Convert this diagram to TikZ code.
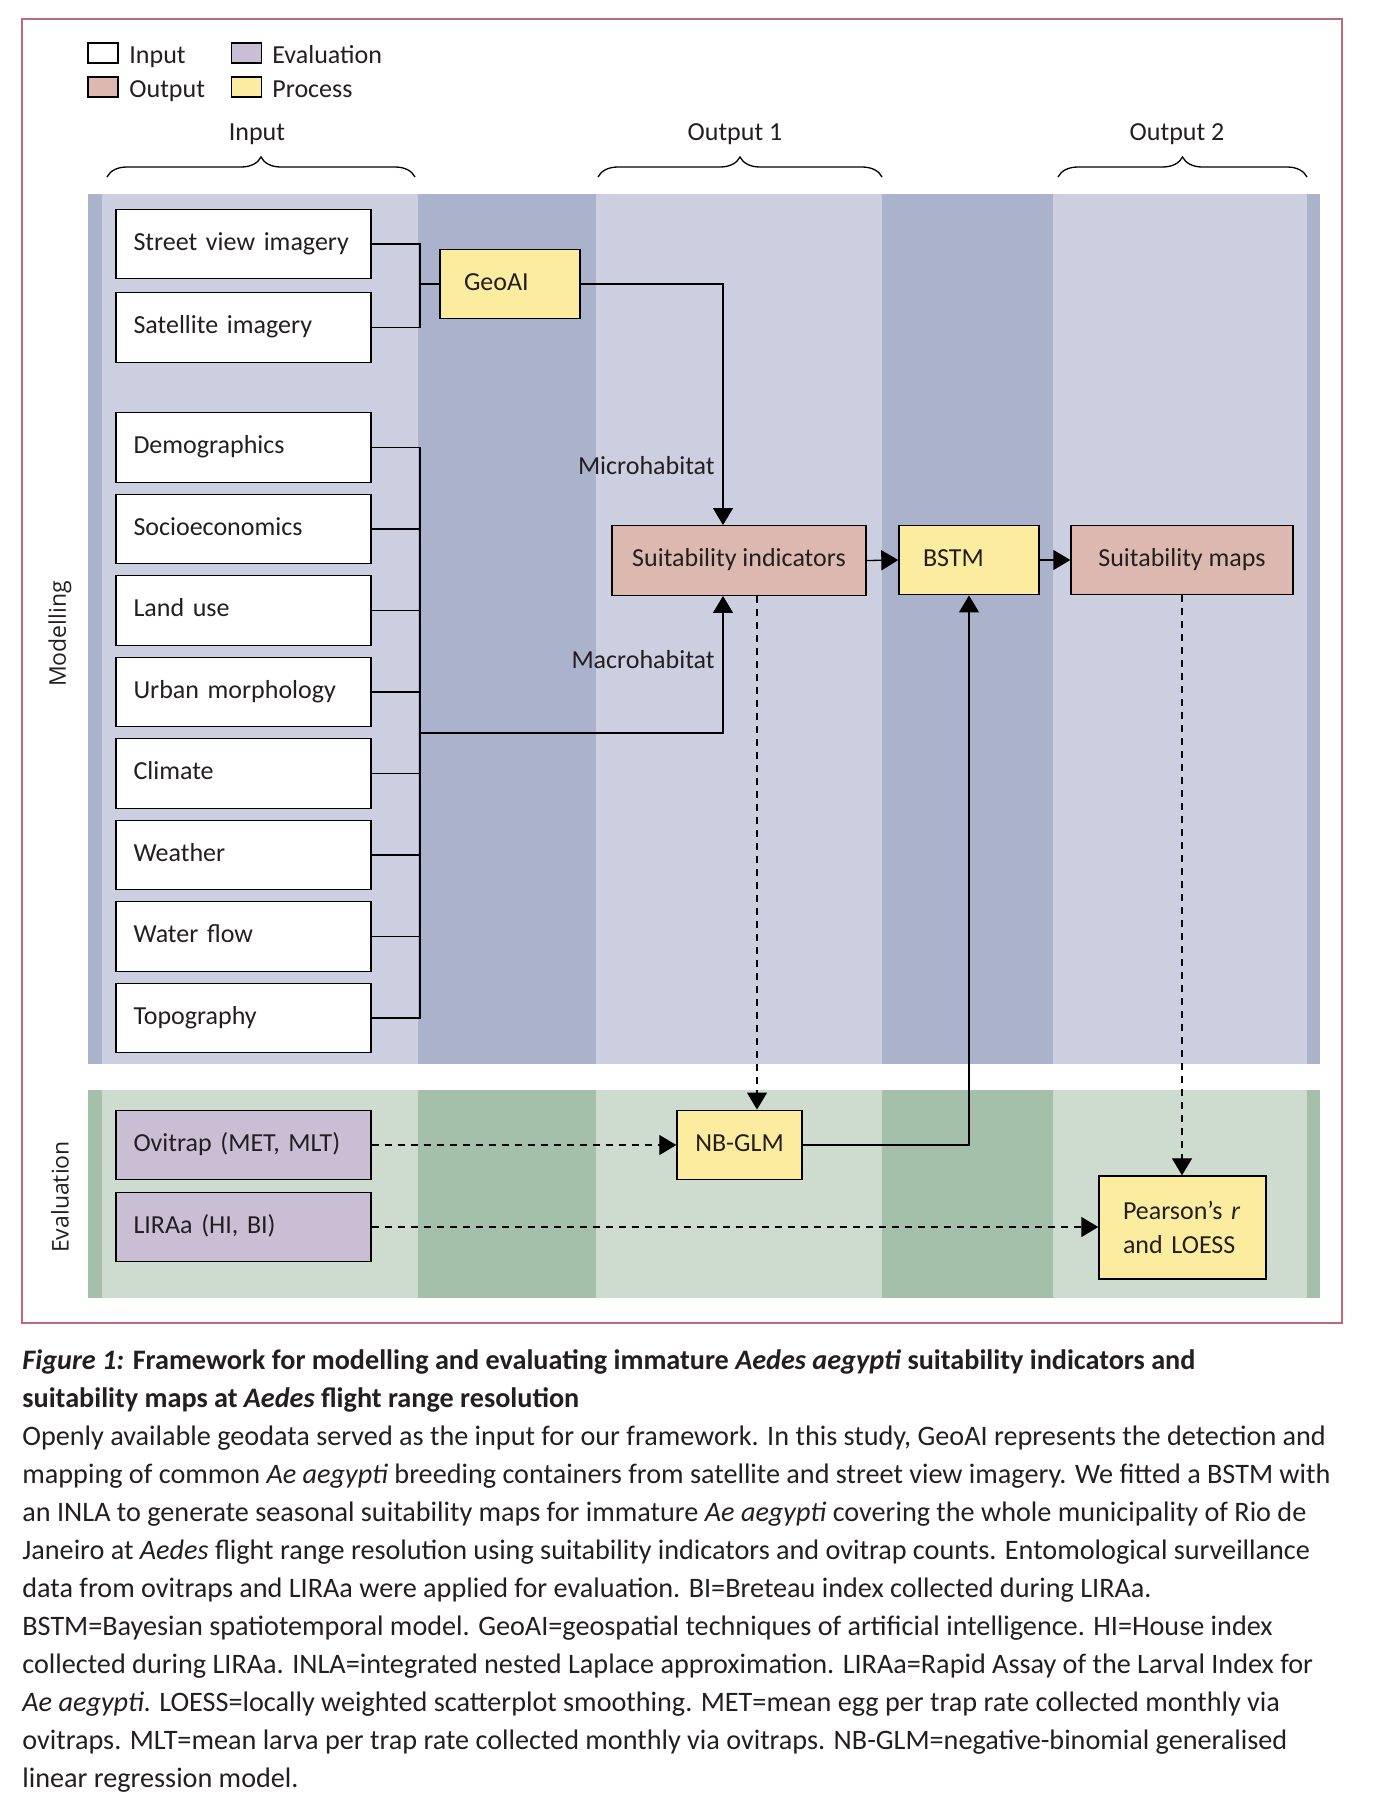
\documentclass[tikz,border=0pt]{standalone}
\usepackage{fontspec}
\setmainfont{Carlito}
\newfontfamily\sidefont{Open Sans}
\usetikzlibrary{positioning,calc,arrows.meta,decorations.pathreplacing}
\definecolor{inkcol}{RGB}{35,31,32}
\definecolor{framecol}{RGB}{190,105,120}
\definecolor{bluelight}{RGB}{203,207,223}
\definecolor{bluedark}{RGB}{170,178,204}
\definecolor{greenlight}{RGB}{206,220,208}
\definecolor{greendark}{RGB}{164,192,170}
\definecolor{outfill}{RGB}{220,184,176}
\definecolor{evalfill}{RGB}{201,190,212}
\definecolor{procfill}{RGB}{251,236,160}
\tikzstyle{inbox} = [draw, fill=white, line width=0.7pt, text width=110pt, inner xsep=8.75pt, minimum height=34.75pt, align=left, text height=8pt, text depth=2pt]
\tikzstyle{evbox} = [inbox, fill=evalfill]
\tikzstyle{outbox} = [draw, fill=outfill, line width=0.7pt, minimum height=34.75pt, text height=8pt, text depth=2pt]
\tikzstyle{procbox} = [draw, fill=procfill, line width=0.7pt, minimum height=34.75pt, inner xsep=12pt, align=left]
\tikzstyle{oneline} = [text height=8pt, text depth=2pt]
\tikzstyle{legbox} = [draw, line width=0.7pt, minimum width=15pt, minimum height=10pt, inner sep=0pt]
\tikzstyle{Line} = [line width=0.65pt]
\tikzstyle{Arrow} = [-{Triangle[length=8.5pt,width=10pt]}, line width=0.65pt]
\tikzstyle{DArrow} = [Arrow, dash pattern=on 3.5pt off 3pt]

\begin{document}
\begin{tikzpicture}[x=0.5pt, y=-0.5pt, text=inkcol, font=\fontsize{13}{17}\selectfont]
            \useasboundingbox (0,0) rectangle (1390,1810);
            \fill[white] (0,0) rectangle (1390,1810);
            \draw[framecol, line width=1pt] (22,19) rectangle (1342,1323);
            %%%%% Panels %%%%%
            \fill[bluelight] (88,194) rectangle (1320,1064);
            \fill[bluedark] (88,194) rectangle (102,1064);
            \fill[bluedark] (418,194) rectangle (596,1064);
            \fill[bluedark] (882,194) rectangle (1053,1064);
            \fill[bluedark] (1307,194) rectangle (1320,1064);
            \fill[greenlight] (88,1090) rectangle (1320,1298);
            \fill[greendark] (88,1090) rectangle (102,1298);
            \fill[greendark] (418,1090) rectangle (596,1298);
            \fill[greendark] (882,1090) rectangle (1053,1298);
            \fill[greendark] (1307,1090) rectangle (1320,1298);
            \node[rotate=90, font=\sidefont\fontsize{11.5}{14}\selectfont] (modl) at (60,634) {Modelling};
            \node[rotate=90, font=\sidefont\fontsize{11.5}{14}\selectfont] (evl) at (60,1197) {Evaluation};
            %%%%% Legend %%%%%
            \node[legbox, fill=white] (legIn) at (103,53) {};
            \node[anchor=base west, inner sep=0pt] at (129,63) {Input};
            \node[legbox, fill=outfill] (legOut) at (103,87) {};
            \node[anchor=base west, inner sep=0pt] at (129,97) {Output};
            \node[legbox, fill=evalfill] (legEv) at (246.5,53) {};
            \node[anchor=base west, inner sep=0pt] at (272,63) {Evaluation};
            \node[legbox, fill=procfill] (legPr) at (246.5,87) {};
            \node[anchor=base west, inner sep=0pt] at (272,97) {Process};
            %%%%% Headers %%%%%
            \node[anchor=base] (hdIn) at (257,140) {Input};
            \node[anchor=base] (hdOne) at (735,140) {Output 1};
            \node[anchor=base] (hdTwo) at (1177,140) {Output 2};
            \draw[Line, decorate, decoration={brace, amplitude=10pt}] (107,177) -- (415,177);
            \draw[Line, decorate, decoration={brace, amplitude=10pt}] (598,177) -- (882,177);
            \draw[Line, decorate, decoration={brace, amplitude=10pt}] (1058,177) -- (1307,177);
            %%%%% Inputs %%%%%
            \node[inbox] (street) at (243.5,244) {Street view imagery};
            \node[inbox] (sat) at (243.5,327.5) {Satellite imagery};
            \node[inbox] (demo) at (243.5,447.5) {Demographics};
            \node[inbox, below=5.3pt of demo] (socio) {Socioeconomics};
            \node[inbox, below=5.3pt of socio] (land) {Land use};
            \node[inbox, below=5.3pt of land] (urban) {Urban morphology};
            \node[inbox, below=5.3pt of urban] (climate) {Climate};
            \node[inbox, below=5.3pt of climate] (weather) {Weather};
            \node[inbox, below=5.3pt of weather] (water) {Water flow};
            \node[inbox, below=5.3pt of water] (topo) {Topography};
            %%%%% Outputs and processes %%%%%
            \node[procbox, oneline, text width=46pt] (geoai) at (510,284) {GeoAI};
            \node[outbox, minimum width=127pt] (suitind) at (739,560.5) {Suitability indicators};
            \node[procbox, oneline, text width=46pt] (bstm) at (969,560) {BSTM};
            \node[outbox, minimum width=111pt] (suitmap) at (1182,560) {Suitability maps};
            %%%%% Evaluation %%%%%
            \node[evbox] (ovi) at (243.5,1145) {Ovitrap (MET, MLT)};
            \node[evbox] (lira) at (243.5,1227) {LIRAa (HI, BI)};
            \node[procbox, oneline, align=center, inner xsep=8pt, text width=46.5pt] (nbglm) at (739.5,1145) {NB-GLM};
            \node[procbox, text width=59.5pt, minimum height=51.5pt] (pearson) at (1182.5,1227.5) {Pearson’s \textit{r}\\and LOESS};
            %%%%% Edges %%%%%
            \coordinate (gbus) at (420,284);
            \draw[Line] (street.east) -| (gbus) |- (sat.east);
            \draw[Line] (gbus) -- (geoai.west);
            \coordinate (macro) at (420,733);
            \draw[Line] (demo.east) -| (macro);
            \draw[Line] (socio.east) -| (macro);
            \draw[Line] (land.east) -| (macro);
            \draw[Line] (urban.east) -| (macro);
            \draw[Line] (climate.east) -| (macro);
            \draw[Line] (weather.east) -| (macro);
            \draw[Line] (water.east) -| (macro);
            \draw[Line] (topo.east) -| (macro);
            \draw[Arrow] (geoai.east) -| ([xshift=-8pt]suitind.north);
            \draw[Arrow] (macro) -| ([xshift=-8pt]suitind.south);
            \node[anchor=base east, inner sep=0pt] (micro) at (715,474) {Microhabitat};
            \node[anchor=base east, inner sep=0pt] (macrol) at (715,668) {Macrohabitat};
            \draw[Arrow] (suitind.east) -- (bstm.west);
            \draw[Arrow] (bstm.east) -- (suitmap.west);
            \draw[DArrow] ([xshift=9pt]suitind.south) -- ([xshift=9pt]suitind.south |- nbglm.north);
            \draw[DArrow] (suitmap.south) -- (suitmap.south |- pearson.north);
            \draw[DArrow] (ovi.east) -- (nbglm.west);
            \draw[DArrow] (lira.east) -- (lira.east -| pearson.west);
            \draw[Arrow] (nbglm.east) -| (bstm.south);
            %%%%% Caption %%%%%
            \node[anchor=north west, align=left, inner sep=0pt, font=\fontsize{14.1}{19}\selectfont] (caption) at (22,1349) {{\bfseries\itshape Figure 1:} {\bfseries Framework for modelling and evaluating immature \textit{Aedes aegypti} suitability indicators and}\\
            {\bfseries suitability maps at \textit{Aedes} flight range resolution}\\
            Openly available geodata served as the input for our framework. In this study, GeoAI represents the detection and\\
            mapping of common \textit{Ae aegypti} breeding containers from satellite and street view imagery. We fitted a BSTM with\\
            an INLA to generate seasonal suitability maps for immature \textit{Ae aegypti} covering the whole municipality of Rio de\\
            Janeiro at \textit{Aedes} flight range resolution using suitability indicators and ovitrap counts. Entomological surveillance\\
            data from ovitraps and LIRAa were applied for evaluation. BI=Breteau index collected during LIRAa.\\
            BSTM=Bayesian spatiotemporal model. GeoAI=geospatial techniques of artificial intelligence. HI=House index\\
            collected during LIRAa. INLA=integrated nested Laplace approximation. LIRAa=Rapid Assay of the Larval Index for\\
            \textit{Ae aegypti}. LOESS=locally weighted scatterplot smoothing. MET=mean egg per trap rate collected monthly via\\
            ovitraps. MLT=mean larva per trap rate collected monthly via ovitraps. NB-GLM=negative-binomial generalised\\
            linear regression model.};
        \end{tikzpicture}
\end{document}
